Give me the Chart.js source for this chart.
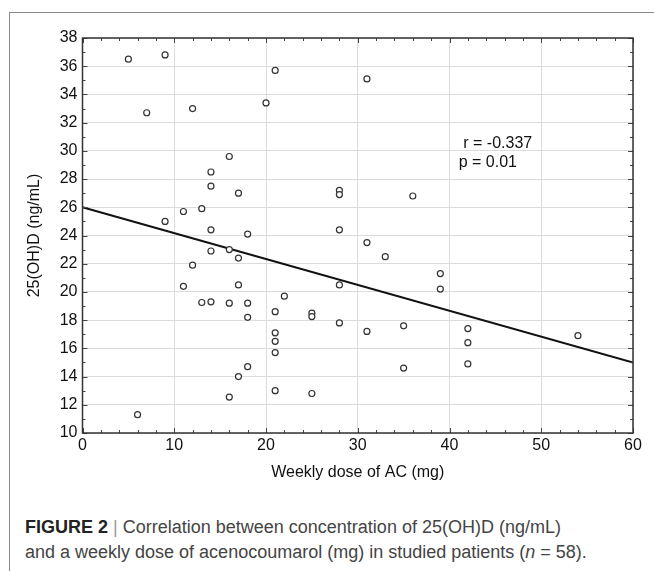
<!DOCTYPE html>
<html>
<head>
<meta charset="utf-8">
<script src="https://cdn.jsdelivr.net/npm/chart.js@4"></script>
<style>
  body { margin: 0; background: #fff; }
  #wrap { position: relative; width: 654px; height: 571px; overflow: hidden; }
  #frame { position: absolute; left: 9px; top: 12px; width: 660px; height: 600px;
           border-left: 1px solid #8a8a8a; border-top: 1px solid #8a8a8a; }
  #c { position: absolute; left: 0; top: 0; }
  #caption { position: absolute; left: 25px; top: 515px; width: 625px; white-space: nowrap;
             font-family: "Liberation Sans", Arial, sans-serif; font-size: 18px;
             line-height: 25px; color: #444; }
  #caption b { color: #222; }
  #caption .bar { color: #999; }
</style>
</head>
<body>
<div id="wrap">
  <div id="frame"></div>
  <canvas id="c" width="654" height="500"></canvas>
  <div id="caption"><b>FIGURE 2</b> <span class="bar">|</span> Correlation between concentration of 25(OH)D (ng/mL)<br>and a weekly dose of acenocoumarol (mg) in studied patients (<i>n</i> = 58).</div>
</div>
<script>
// weekly dose of AC (mg)
const doseMg = [5, 9, 7, 12, 20, 21, 16, 14, 14, 17, 11, 13, 9, 14, 18,
    31, 28, 28, 36, 28, 31,
    14, 16, 17, 12, 11, 17, 22, 13, 14, 16, 18, 21, 18, 25, 25, 21, 21, 21, 18, 17, 21, 25, 16, 6,
    33, 39, 39, 28, 28, 31, 35, 42, 42, 42, 35, 54];
// 25(OH)D (ng/mL)
const vitD = [36.5, 36.8, 32.7, 33.0, 33.4, 35.7, 29.6, 28.5, 27.5, 27.0, 25.7, 25.9, 25.0, 24.4, 24.1,
    35.1, 27.2, 26.9, 26.8, 24.4, 23.5,
    22.9, 23.0, 22.4, 21.9, 20.4, 20.5, 19.7, 19.25, 19.3, 19.2, 19.2, 18.6, 18.2, 18.5, 18.25, 17.1, 16.5, 15.7, 14.7, 14.0, 13.0, 12.8, 12.55, 11.3,
    22.5, 21.3, 20.2, 20.5, 17.8, 17.2, 17.6, 17.4, 16.4, 14.9, 14.6, 16.9];
// regression line end points
const fitX = [0, 60];
const fitY = [26, 15];
const statLines = ['r = -0.337', 'p = 0.01'];

const font = '"Liberation Sans", Arial, sans-serif';

// frame + inner minor ticks, and the r / p text
const extras = {
    id: 'extras',
    afterDraw(chart) {
        const ctx = chart.ctx;
        const a = chart.chartArea;
        const xs = chart.scales.x, ys = chart.scales.y;
        ctx.save();
        ctx.strokeStyle = '#444';
        ctx.lineWidth = 1;
        ctx.beginPath();
        for (let v = 0; v <= 60; v += 2) {
            const px = Math.round(xs.getPixelForValue(v)) + 0.5;
            const len = v % 10 === 0 ? 5 : 3;
            ctx.moveTo(px, a.bottom); ctx.lineTo(px, a.bottom - len);
            ctx.moveTo(px, a.top); ctx.lineTo(px, a.top + len);
        }
        for (let v = 10; v <= 38; v += 1) {
            const py = Math.round(ys.getPixelForValue(v)) + 0.5;
            const len = v % 2 === 0 ? 5 : 3;
            ctx.moveTo(a.left, py); ctx.lineTo(a.left + len, py);
            ctx.moveTo(a.right, py); ctx.lineTo(a.right - len, py);
        }
        ctx.stroke();
        ctx.lineWidth = 1.5;
        ctx.strokeStyle = '#333';
        ctx.strokeRect(a.left, a.top, a.right - a.left, a.bottom - a.top);

        ctx.fillStyle = '#111';
        ctx.font = '16px ' + font;
        ctx.textBaseline = 'middle';
        ctx.fillText(statLines[0], xs.getPixelForValue(41.5), ys.getPixelForValue(30.5));
        ctx.fillText(statLines[1], xs.getPixelForValue(41.0), ys.getPixelForValue(29.2));
        ctx.restore();
    }
};

new Chart(document.getElementById('c'), {
    type: 'scatter',
    data: {
        datasets: [{
            label: '25(OH)D',
            data: doseMg.map((x, i) => ({ x: x, y: vitD[i] })),
            pointRadius: 3,
            pointBorderWidth: 1.2,
            pointBorderColor: '#333',
            pointBackgroundColor: '#fff',
            order: 1
        }, {
            type: 'line',
            label: 'fit',
            data: fitX.map((x, i) => ({ x: x, y: fitY[i] })),
            borderColor: '#111',
            borderWidth: 2,
            pointRadius: 0,
            fill: false,
            order: 2
        }]
    },
    options: {
        responsive: false,
        animation: false,
        devicePixelRatio: 1,
        layout: { padding: { left: 0, right: 21, top: 38, bottom: 0 } },
        plugins: { legend: { display: false }, tooltip: { enabled: false } },
        scales: {
            x: {
                type: 'linear', min: 0, max: 60,
                ticks: { stepSize: 10, padding: 3, color: '#111', font: { family: font, size: 16 } },
                grid: { color: '#dcdcdc', drawTicks: false },
                border: { display: false },
                title: { display: true, text: 'Weekly dose of AC (mg)', color: '#111',
                         font: { family: font, size: 16 }, padding: { top: 0, bottom: 18 } },
                afterFit: s => { s.height = 67; }
            },
            y: {
                min: 10, max: 38,
                ticks: { stepSize: 2, padding: 5, color: '#111', font: { family: font, size: 16 } },
                grid: { color: '#dcdcdc', drawTicks: false },
                border: { display: false },
                title: { display: true, text: '25(OH)D (ng/mL)', color: '#111',
                         font: { family: font, size: 16 }, padding: { top: 25, bottom: 0 } },
                afterFit: s => { s.width = 82.5; }
            }
        }
    },
    plugins: [extras]
});
</script>
</body>
</html>
